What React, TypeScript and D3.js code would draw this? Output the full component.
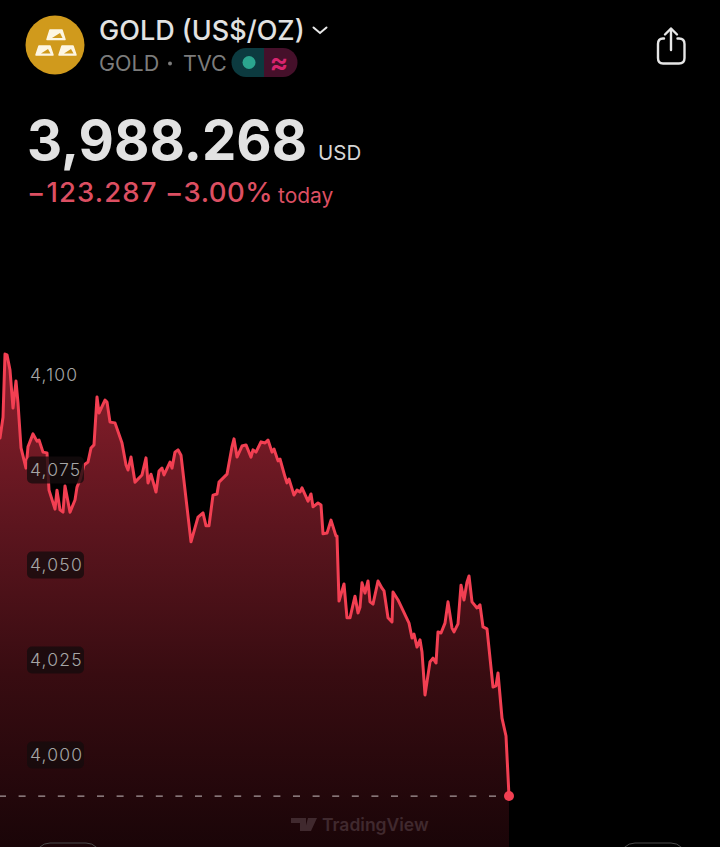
import React from "react";
import * as d3 from "d3";

// x is in sample units along the session
const sampleX = [
  0, 3, 5, 7, 10, 13, 16, 18, 21, 26, 28, 33, 37, 39, 43, 47, 49, 55, 57, 60, 63, 65, 70, 75, 77, 80, 84, 88, 91, 94,
  97, 99, 105, 107, 110, 115, 122, 126, 128, 131, 135, 142, 146, 148, 151, 156, 159, 162, 164, 170, 172, 175, 178, 181,
  191, 198, 203, 206, 209, 213, 217, 219, 227, 232, 234, 237, 242, 246, 251, 253, 256, 261, 265, 268, 272, 274, 278,
  280, 285, 287, 289, 294, 297, 300, 302, 308, 311, 313, 318, 321, 323, 327, 331, 336, 337, 339, 344, 347, 350, 355,
  358, 360, 362, 365, 368, 370, 373, 378, 382, 384, 388, 392, 393, 398, 409, 412, 414, 417, 420, 422, 425, 430, 433,
  436, 438, 441, 445, 448, 452, 454, 458, 461, 464, 467, 469, 472, 477, 480, 483, 487, 493, 496, 498, 502, 506, 509,
];

const prices = [
  4083.4, 4088.9, 4105.5, 4105.3, 4101.3, 4091.3, 4098.4, 4092.6, 4080.8, 4075.5, 4081.1, 4084.5, 4082.6, 4082.9,
  4079.7, 4079.5, 4069.7, 4064.7, 4069.7, 4064.5, 4063.9, 4070.8, 4063.9, 4067.1, 4070.5, 4072.4, 4076.3, 4077.1,
  4080.8, 4081.6, 4094.2, 4090, 4093.4, 4092.9, 4087.6, 4087.4, 4082.1, 4076.3, 4075, 4078.4, 4071.8, 4073.7, 4078.2,
  4071.6, 4073.9, 4069.2, 4074.7, 4075.5, 4073.7, 4077.1, 4075.5, 4079.7, 4080.3, 4078.9, 4056.1, 4062.6, 4063.7,
  4060.3, 4060.3, 4068.4, 4068.7, 4071.8, 4073.9, 4081.1, 4083.2, 4078.4, 4081.3, 4081.6, 4078.4, 4080.3, 4079.7,
  4082.4, 4082.1, 4082.9, 4079.7, 4080.5, 4077.4, 4077.9, 4073.2, 4071.6, 4072.6, 4068.4, 4069.7, 4069.2, 4070.3,
  4066.8, 4068.7, 4065.3, 4066.3, 4065.8, 4058.2, 4058.4, 4061.8, 4057.6, 4057.6, 4040.5, 4045, 4036.1, 4036.1,
  4041.8, 4037.4, 4038.9, 4045.3, 4042.6, 4045.8, 4040.3, 4039.7, 4045.8, 4043.9, 4043.2, 4036.1, 4035, 4042.9,
  4040.8, 4034.7, 4030.8, 4031.8, 4028.4, 4030.3, 4027.1, 4015.8, 4024.5, 4025.5, 4024.2, 4032.4, 4032.1, 4034.7,
  4040.3, 4033.4, 4032.4, 4034.5, 4044.7, 4040.8, 4045.5, 4047.1, 4040.3, 4038.7, 4039.5, 4033.7, 4033.2, 4017.9,
  4018.2, 4021.6, 4009.7, 4005, 3989.2,
];

const yTicks = [4100, 4075, 4050, 4025, 4000];
const lastPriceLine = 3989.2;

const width = 720;
const height = 847;
const font = "Inter, 'Noto Sans', sans-serif";
const red = "#f23f52";
const textRed = "#dc4f62";

const App = () => {
  const xScale = d3.scaleLinear().domain([0, 509]).range([0, 509]);
  const yScale = d3.scaleLinear().domain([4000, 4100]).range([755, 375]);
  const points = sampleX.map((x, i) => [x, prices[i]] as [number, number]);

  const line = d3
    .line<[number, number]>()
    .x((d) => xScale(d[0]))
    .y((d) => yScale(d[1]));

  const area = d3
    .area<[number, number]>()
    .x((d) => xScale(d[0]))
    .y0(height)
    .y1((d) => yScale(d[1]));

  const tickFormat = d3.format(",");
  const last = points[points.length - 1];

  return (
    <svg
      width={width}
      height={height}
      style={{ position: "absolute", left: 0, top: 0, display: "block", background: "#000" }}
      fontFamily={font}
    >
      <defs>
        <linearGradient id="areaFill" gradientUnits="userSpaceOnUse" x1={0} y1={354} x2={0} y2={847}>
          <stop offset="0%" stopColor="#8c1f2c" />
          <stop offset="35%" stopColor="#5c151e" />
          <stop offset="65%" stopColor="#380c11" />
          <stop offset="100%" stopColor="#1a0508" />
        </linearGradient>
      </defs>

      {/* Header */}
      <circle cx={55} cy={45} r={29.5} fill="#d09a1c" />
      <g fill="#fdf6e3" stroke="#fdf6e3" strokeWidth={1.5} strokeLinejoin="round">
        <path d="M50,30 L62,30 L65,39.5 L47,39.5 Z" />
        <path d="M39,46 L50,46 L53,55 L36,55 Z" />
        <path d="M62,46 L73,46 L76,55 L59,55 Z" />
      </g>
      <g fill="#d09a1c">
        <path d="M60,33 L62.5,38 L52,38 Z" />
        <path d="M48,49 L50.5,53.5 L41,53.5 Z" />
        <path d="M71,49 L73.5,53.5 L64,53.5 Z" />
      </g>
      <text x={99} y={40} fontSize={27} fontWeight={500} fill="#e2e2e2">
        GOLD (US$/OZ)
      </text>
      <path d="M313.5,27.5 L320,33 L326.5,27.5" fill="none" stroke="#e8e8e8" strokeWidth={2} strokeLinecap="round" />
      <text x={99} y={71} fontSize={21.5} fill="#7c7c7c">
        GOLD
      </text>
      <circle cx={170} cy={63.5} r={2} fill="#7c7c7c" />
      <text x={183} y={71} fontSize={21.5} fill="#7c7c7c">
        TVC
      </text>
      <path d="M264,48 L246,48 A14.5,14.5 0 0 0 246,77 L264,77 Z" fill="#0c3a3f" />
      <path d="M264,48 L283,48 A14.5,14.5 0 0 1 283,77 L264,77 Z" fill="#45102a" />
      <circle cx={249} cy={62.5} r={6.5} fill="#2ba58e" />
      <text x={279} y={72} fontSize={28} fontWeight={600} textAnchor="middle" fill="#d8246e">
        ≈
      </text>
      <g fill="none" stroke="#e6e6e6" strokeWidth={2.4} strokeLinecap="round" strokeLinejoin="round">
        <path d="M664,38.5 L663,38.5 Q658,38.5 658,44 L658,58 Q658,63.5 663,63.5 L679,63.5 Q684.5,63.5 684.5,58 L684.5,44 Q684.5,38.5 679,38.5 L677.5,38.5" />
        <path d="M671,50 L671,29" />
        <path d="M665,34.5 L671,28.5 L677,34.5" />
      </g>

      <text x={27} y={160} fontSize={54.5} fontWeight={700} fill="#e2e2e2">
        3,988.268
      </text>
      <text x={318} y={160} fontSize={20.5} fill="#d6d6d6">
        USD
      </text>
      <text x={27} y={202} fontSize={27.5} fontWeight={500} letterSpacing={1.1} fill={textRed}>
        −123.287
      </text>
      <text x={165} y={202} fontSize={27.5} fontWeight={500} letterSpacing={0.5} fill={textRed}>
        −3.00%
      </text>
      <text x={278} y={203} fontSize={21} fill={textRed}>
        today
      </text>

      {/* Chart */}
      <path d={area(points) ?? ""} fill="url(#areaFill)" />

      <text x={322} y={831} fontSize={17.5} fontWeight={600} fill="#40292e">
        TradingView
      </text>
      <path d="M291,818 L306,818 L306,831 L300,831 L300,823 L291,823 Z M308,818 L317,818 L311,831 L304.5,831 Z" fill="#40292e" />

      <line
        x1={0}
        x2={xScale(last[0])}
        y1={yScale(lastPriceLine)}
        y2={yScale(lastPriceLine)}
        stroke="#a89a9c"
        strokeWidth={1.2}
        strokeDasharray="7 12.6"
        strokeDashoffset={1}
      />

      <path
        d={line(points) ?? ""}
        fill="none"
        stroke={red}
        strokeWidth={3}
        strokeLinejoin="round"
        strokeLinecap="round"
      />
      <circle cx={xScale(last[0])} cy={yScale(last[1])} r={5} fill={red} />

      {yTicks.map((tickValue) => (
        <g key={tickValue} transform={`translate(0,${yScale(tickValue)})`}>
          {tickValue !== 4100 && <rect x={27} y={-13.5} width={57} height={27} rx={5} fill="#140c0d" fillOpacity={0.78} />}
          <text x={30} y={6} fontSize={17.5} fontWeight={300} letterSpacing={1.2} fill="#a6a6a6">
            {tickFormat(tickValue)}
          </text>
        </g>
      ))}

      {/* pills cut off by the bottom edge */}
      <rect x={35} y={843} width={66} height={30} rx={15} fill="none" stroke="#4a4a4a" strokeWidth={1} />
      <rect x={620} y={843} width={66} height={30} rx={15} fill="none" stroke="#4a4a4a" strokeWidth={1} />
    </svg>
  );
};

export default App;
